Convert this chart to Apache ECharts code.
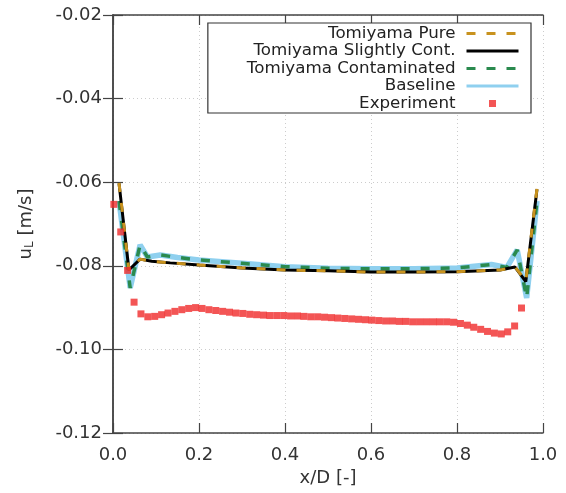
<!DOCTYPE html>
<html>
<head>
<meta charset="utf-8">
<script src="https://cdn.jsdelivr.net/npm/echarts@6/dist/echarts.min.js"></script>
<style>html,body{margin:0;padding:0;background:#fff}#c{width:566px;height:493px}</style>
</head>
<body>
<div id="c"></div>
<script>
// ---- data ----
const pureX = [0.014,0.037,0.063,0.09,0.133,0.2,0.3,0.4,0.5,0.6,0.7,0.8,0.9,0.935,0.96,0.986];
const pureY = [-0.0602,-0.0810,-0.0784,-0.0789,-0.0793,-0.0798,-0.0805,-0.0810,-0.0812,-0.0815,-0.0815,-0.0814,-0.0810,-0.0803,-0.0836,-0.0615];
const slightX = [0.014,0.037,0.063,0.09,0.133,0.2,0.3,0.4,0.5,0.6,0.7,0.8,0.9,0.935,0.96,0.986];
const slightY = [-0.0603,-0.0810,-0.0784,-0.0789,-0.0793,-0.0798,-0.0805,-0.0810,-0.0812,-0.0815,-0.0815,-0.0814,-0.0810,-0.0803,-0.0838,-0.0617];
const contX = [0.014,0.04,0.063,0.08,0.11,0.15,0.2,0.3,0.4,0.5,0.6,0.7,0.8,0.88,0.916,0.94,0.962,0.986];
const contY = [-0.0645,-0.0853,-0.0750,-0.0779,-0.0774,-0.0780,-0.0786,-0.0794,-0.0802,-0.0806,-0.0807,-0.0807,-0.0805,-0.0797,-0.0804,-0.0762,-0.0877,-0.0645];
const baseX = [0.014,0.04,0.063,0.08,0.11,0.15,0.2,0.3,0.4,0.5,0.6,0.7,0.8,0.88,0.916,0.94,0.962,0.986];
const baseY = [-0.0645,-0.0853,-0.0750,-0.0779,-0.0774,-0.0780,-0.0786,-0.0794,-0.0802,-0.0806,-0.0807,-0.0807,-0.0805,-0.0797,-0.0804,-0.0762,-0.0877,-0.0645];
const expX = [0.002,0.018,0.034,0.049,0.065,0.081,0.097,0.113,0.128,0.144,0.160,0.176,0.192,0.207,0.223,0.239,0.255,0.271,0.286,0.302,0.318,0.334,0.350,0.365,0.381,0.397,0.413,0.429,0.444,0.460,0.476,0.492,0.508,0.523,0.539,0.555,0.571,0.587,0.602,0.618,0.634,0.650,0.666,0.681,0.697,0.713,0.729,0.745,0.760,0.776,0.792,0.808,0.824,0.839,0.855,0.871,0.887,0.903,0.918,0.934,0.950];
const expY = [-0.0653,-0.0719,-0.0811,-0.0887,-0.0915,-0.0922,-0.0921,-0.0917,-0.0913,-0.0909,-0.0905,-0.0902,-0.0900,-0.0902,-0.0905,-0.0907,-0.0909,-0.0911,-0.0913,-0.0914,-0.0916,-0.0917,-0.0918,-0.0919,-0.0919,-0.0919,-0.0920,-0.0920,-0.0921,-0.0922,-0.0922,-0.0923,-0.0924,-0.0925,-0.0926,-0.0927,-0.0928,-0.0929,-0.0930,-0.0931,-0.0932,-0.0932,-0.0933,-0.0933,-0.0934,-0.0934,-0.0934,-0.0934,-0.0934,-0.0934,-0.0935,-0.0938,-0.0942,-0.0947,-0.0952,-0.0957,-0.0961,-0.0963,-0.0958,-0.0944,-0.0901];
const seriesNames = ['Tomiyama Pure','Tomiyama Slightly Cont.','Tomiyama Contaminated','Baseline','Experiment'];
const xTicks = [0.0,0.2,0.4,0.6,0.8,1.0];
const yTicks = [-0.12,-0.10,-0.08,-0.06,-0.04,-0.02];

const zip = (a,b) => a.map((v,i)=>[v,b[i]]);
const FONT = 'DejaVu Sans';
const axisCol = '#444';
const hideSym = {color:'rgba(0,0,0,0)',borderColor:'rgba(0,0,0,0)',borderWidth:0,opacity:0};

const chart = echarts.init(document.getElementById('c'), null, {renderer:'canvas'});
const commonAxis = {
  axisLine:{show:true,lineStyle:{color:axisCol,width:1.5}},
  axisTick:{show:true,inside:true,length:10,lineStyle:{color:axisCol,width:1.2}},
};
chart.setOption({
  animation:false,
  backgroundColor:'#fff',
  textStyle:{fontFamily:FONT},
  grid:{left:113,right:23,top:15,bottom:60,containLabel:false},
  xAxis:[{
    type:'value',min:xTicks[0],max:xTicks[xTicks.length-1],interval:0.2,position:'bottom',
    ...commonAxis,
    axisLabel:{fontSize:18,color:'#333',margin:13,fontFamily:FONT,formatter:v=>v.toFixed(1)},
    splitLine:{show:true,lineStyle:{color:'#cccccc',type:[1,3],width:1}},
    name:'x/D [-]',nameLocation:'middle',nameGap:34,
    nameTextStyle:{fontSize:18,color:'#333',fontFamily:FONT}
  },{
    type:'value',min:xTicks[0],max:xTicks[xTicks.length-1],interval:0.2,position:'top',
    ...commonAxis,axisLabel:{show:false},splitLine:{show:false}
  }],
  yAxis:[{
    type:'value',min:yTicks[0],max:yTicks[yTicks.length-1],interval:0.02,position:'left',
    ...commonAxis,
    axisLabel:{fontSize:18,color:'#333',margin:11,fontFamily:FONT,formatter:v=>v.toFixed(2)},
    splitLine:{show:true,lineStyle:{color:'#cccccc',type:[1,3],width:1}},
    name:'{a|u}{s|L}{a| [m/s]}',nameLocation:'middle',nameGap:77,nameRotate:90,
    nameTextStyle:{fontSize:18,color:'#333',fontFamily:FONT,
      rich:{a:{fontSize:18,color:'#333',fontFamily:FONT},s:{fontSize:12,color:'#333',fontFamily:FONT,padding:[8,0,0,0]}}}
  },{
    type:'value',min:yTicks[0],max:yTicks[yTicks.length-1],interval:0.02,position:'right',
    ...commonAxis,axisLabel:{show:false},splitLine:{show:false}
  }],
  legend:{
    orient:'vertical',align:'right',right:35,top:23,
    padding:[2,11,1,39],itemGap:0.5,itemWidth:52,itemHeight:14,
    backgroundColor:'#fff',borderColor:'#333',borderWidth:1.2,
    textStyle:{fontSize:16.7,color:'#222',fontFamily:FONT,lineHeight:16,padding:[0,6,0,0]},
    data:[
      {name:seriesNames[0],itemStyle:hideSym,lineStyle:{width:3}},
      {name:seriesNames[1],itemStyle:hideSym,lineStyle:{width:3}},
      {name:seriesNames[2],itemStyle:hideSym,lineStyle:{width:3}},
      {name:seriesNames[3],itemStyle:hideSym,lineStyle:{width:3}},
      {name:seriesNames[4],icon:'path://M-0.5,-0.5M1.5,1.5M0,0L1,0L1,1L0,1Z'}
    ]
  },
  series:[
    {name:seriesNames[3],type:'line',data:zip(baseX,baseY),showSymbol:false,symbol:'none',z:2,
      lineStyle:{color:'#8fd0ef',width:5.5},itemStyle:{color:'#8fd0ef'}},
    {name:seriesNames[2],type:'line',data:zip(contX,contY),showSymbol:false,symbol:'none',z:3,
      lineStyle:{color:'#2a8a4e',width:3.5,type:[9,11]},itemStyle:{color:'#2a8a4e'}},
    {name:seriesNames[1],type:'line',data:zip(slightX,slightY),showSymbol:false,symbol:'none',z:4,
      lineStyle:{color:'#000',width:3},itemStyle:{color:'#000'}},
    {name:seriesNames[0],type:'line',data:zip(pureX,pureY),showSymbol:false,symbol:'none',z:5,
      lineStyle:{color:'#c8921e',width:3,type:[9,11]},itemStyle:{color:'#c8921e'}},
    {name:seriesNames[4],type:'scatter',data:zip(expX,expY),symbol:'rect',symbolSize:7,z:6,
      itemStyle:{color:'#f02a2a'}}
  ]
});
</script>
</body>
</html>
